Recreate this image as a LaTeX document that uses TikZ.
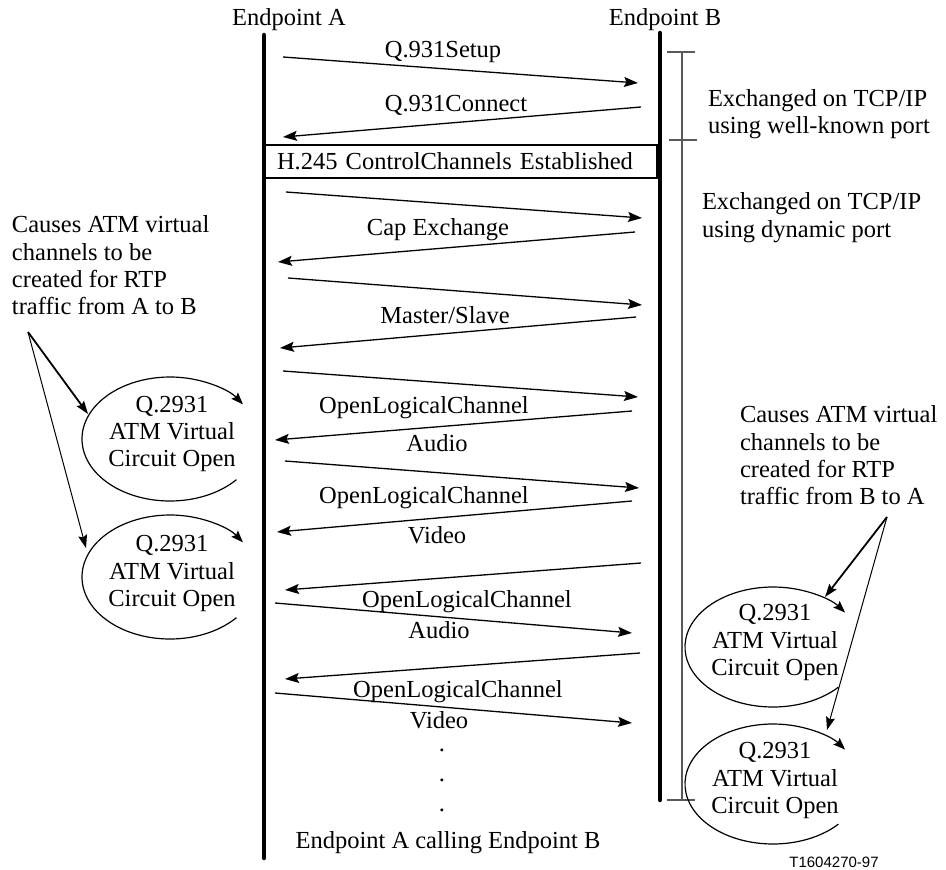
\documentclass[tikz,border=0pt]{standalone}
\usepackage{fontspec}
\setmainfont{Liberation Serif}
\newfontfamily\figsans{Liberation Sans}
\usetikzlibrary{arrows.meta}
\begin{document}
\begin{tikzpicture}[x=1pt,y=-1pt,
  every node/.style={inner sep=0pt, outer sep=0pt, font=\fontsize{24.5}{27.3}\selectfont},
  lbl/.style={anchor=base},
  msg/.style={line width=1.3pt, -{Stealth[length=14pt,width=10pt,inset=2.5pt]}},
  life/.style={line width=4.5pt, line cap=round},
  brk/.style={line width=1.5pt, draw=black!65},
  ell/.style={line width=1.2pt, -{Stealth[length=12pt,width=9pt,inset=2pt]}},
  ptr/.style={-{Stealth[length=13pt,width=9pt,inset=2pt]}},
]
\useasboundingbox (0,0) rectangle (946,870);

% lifelines
\coordinate (Atop) at (264,35);
\coordinate (Abot) at (264,858);
\coordinate (Btop) at (660,33);
\coordinate (Bbot) at (660,800);

\node[lbl] (labA) at (289,25) {Endpoint A};
\node[lbl] (labB) at (665,25) {Endpoint B};

% H.245 box
\node[draw, line width=1.2pt, anchor=west, minimum height=33pt, inner xsep=13pt,
      text width=367pt, align=left] (h245) at (264,161.5) {H.245 ControlChannels Established};

\draw[life] (Atop) -- (Abot);
\draw[life] (Btop) -- (Bbot);

% bracket
\coordinate (k1) at (682,52);
\coordinate (k2) at (682,800);
\draw[brk] (k1) -- (k2);
\draw[brk] (667,52) -- (695,52);
\draw[brk] (669,140) -- (697,140);
\draw[brk] (667,800) -- (695,800);

\node[anchor=west, align=left] (tcp1) at (708,114) {Exchanged on TCP/IP\\using well-known port};
\node[anchor=west, align=left] (tcp2) at (702,217.7) {Exchanged on TCP/IP\\using dynamic port};

% messages
\coordinate (m1s) at (283,57);   \coordinate (m1e) at (638,83);
\coordinate (m2s) at (641,107);  \coordinate (m2e) at (283,137);
\coordinate (m3s) at (286,192);  \coordinate (m3e) at (642,218);
\coordinate (m4s) at (635,232);  \coordinate (m4e) at (278,262);
\coordinate (m5s) at (288,278);  \coordinate (m5e) at (642,305);
\coordinate (m6s) at (636,317);  \coordinate (m6e) at (280,348);
\coordinate (m7s) at (283,371);  \coordinate (m7e) at (638,397);
\coordinate (m8s) at (632,411);  \coordinate (m8e) at (275,440);
\coordinate (m9s) at (285,461);  \coordinate (m9e) at (639,488);
\coordinate (m10s) at (632,501); \coordinate (m10e) at (277,532);
\coordinate (m11s) at (641,563); \coordinate (m11e) at (285,590);
\coordinate (m12s) at (275,603); \coordinate (m12e) at (632,633);
\coordinate (m13s) at (640,653); \coordinate (m13e) at (285,679);
\coordinate (m14s) at (275,693); \coordinate (m14e) at (632,723);

\foreach \i in {1,...,14} { \draw[msg] (m\i s) -- (m\i e); }

\node[lbl] (t1) at (443,57) {Q.931Setup};
\node[lbl] (t2) at (456,111) {Q.931Connect};
\node[lbl] (t4) at (438,235) {Cap Exchange};
\node[lbl] (t6) at (445,323) {Master/Slave};
\node[lbl] (t8a) at (424,413) {OpenLogicalChannel};
\node[lbl] (t8b) at (437,451) {Audio};
\node[lbl] (t10a) at (424,503) {OpenLogicalChannel};
\node[lbl] (t10b) at (437,543) {Video};
\node[lbl] (t12a) at (467,607) {OpenLogicalChannel};
\node[lbl] (t12b) at (439,638) {Audio};
\node[lbl] (t14a) at (458,697) {OpenLogicalChannel};
\node[lbl] (t14b) at (439,728) {Video};

\node[lbl] (d1) at (442,751) {.};
\node[lbl] (d2) at (442,781) {.};
\node[lbl] (d3) at (442,811) {.};

\node[lbl] (cap) at (448,848) {Endpoint A calling Endpoint B};
\node[lbl, font=\figsans\fontsize{15}{18}\selectfont] (fig) at (834,867) {T1604270-97};

% ellipses (left)
\node[align=center] (e1) at (172,434) {Q.2931\\ATM Virtual\\Circuit Open};
\node[align=center] (e2) at (172,573.5) {Q.2931\\ATM Virtual\\Circuit Open};
\draw[ell] (170,439) ++(-41:88pt and 62pt) arc[start angle=-41, end angle=-326, x radius=88pt, y radius=62pt];
\draw[ell] (170,577) ++(-41:88pt and 62pt) arc[start angle=-41, end angle=-326, x radius=88pt, y radius=62pt];

% ellipses (right)
\node[align=center] (e3) at (775,642.5) {Q.2931\\ATM Virtual\\Circuit Open};
\node[align=center] (e4) at (775,780.5) {Q.2931\\ATM Virtual\\Circuit Open};
\draw[ell] (773,647) ++(-42:88pt and 60pt) arc[start angle=-42, end angle=-325, x radius=88pt, y radius=60pt];
\draw[ell] (773,784) ++(-42:88pt and 60pt) arc[start angle=-42, end angle=-325, x radius=88pt, y radius=60pt];

% annotations
\node[anchor=west, align=left] (annL) at (12,265.5) {Causes ATM virtual\\channels to be\\created for RTP\\traffic from A to B};
\node[anchor=west, align=left] (annR) at (740,455.5) {Causes ATM virtual\\channels to be\\created for RTP\\traffic from B to A};

\coordinate (lp) at (28,332);
\coordinate (lt1) at (88,414);
\coordinate (lt2) at (86,548);
\draw[ptr, line width=1.8pt] (lp) -- (lt1);
\draw[ptr, line width=1pt] (lp) -- (lt2);

\coordinate (rp) at (887,517);
\coordinate (rt1) at (825,597);
\coordinate (rt2) at (827,730);
\draw[ptr, line width=1.8pt] (rp) -- (rt1);
\draw[ptr, line width=1pt] (rp) -- (rt2);
\end{tikzpicture}
\end{document}
